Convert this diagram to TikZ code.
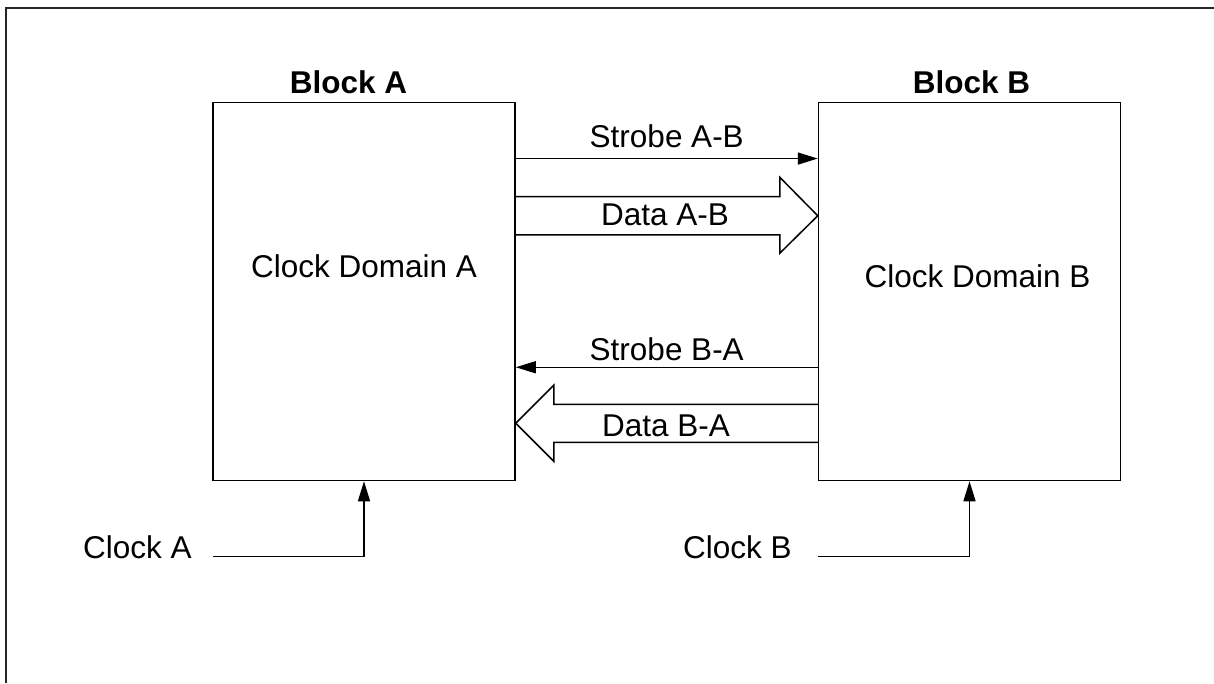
\documentclass[tikz,border=0pt]{standalone}
\usepackage{fontspec}
\setmainfont{Liberation Sans}
\usepackage{tikz}
\usetikzlibrary{arrows.meta,calc}
\tikzstyle{block} = [rectangle, minimum width=302pt, minimum height=378pt, inner sep=0pt, draw=black, line width=1.5pt]
\tikzstyle{title} = [font=\fontsize{31.5}{36}\selectfont\bfseries, anchor=base, inner sep=0pt]
\tikzstyle{txt} = [font=\fontsize{31.5}{36}\selectfont, anchor=base, inner sep=0pt]
\tikzstyle{arrow} = [line width=1.5pt,-{Triangle[length=20pt,width=12pt]}]
\tikzstyle{bus} = [line width=1.5pt, line join=miter]
\tikzstyle{frame} = [line width=2pt, draw=black!85]

\begin{document}
\begin{tikzpicture}[x=1pt, y=-1pt]
\useasboundingbox (0,0) rectangle (1214,683);
\draw [frame] (1214,8) -- (6,8) -- (6,683);

\node (blkA) [block] at (364,291.5) {};
\node (blkB) [block] at (969.5,291.5) {};
\node (ttlA) [title] at (348.5,93) {Block A};
\node (ttlB) [title] at (971.5,93) {Block B};
\node (domA) [txt] at (364,277) {Clock Domain A};
\node (domB) [txt] at (977.5,287) {Clock Domain B};

% A to B
\draw [arrow] ([yshift=-56.8pt]blkA.north east) -- node (strAB) [txt, above=10pt] {Strobe A-B} ([yshift=-56.8pt]blkB.north west);
\draw [bus] ([yshift=-94.8pt]blkA.north east) -- ([yshift=-94.8pt,xshift=-38pt]blkB.north west)
  -- ([yshift=-75.5pt,xshift=-38pt]blkB.north west) -- ([yshift=-114pt]blkB.north west)
  -- ([yshift=-151.5pt,xshift=-38pt]blkB.north west) -- ([yshift=-133.2pt,xshift=-38pt]blkB.north west)
  -- ([yshift=-133.2pt]blkA.north east);
\node (datAB) [txt] at (665,225) {Data A-B};

% B to A
\draw [arrow] ([yshift=-265.5pt]blkB.north west) -- node (strBA) [txt, above=6pt] {Strobe B-A} ([yshift=-265.5pt]blkA.north east);
\draw [bus] ([yshift=-302.5pt]blkB.north west) -- ([yshift=-302.5pt,xshift=38pt]blkA.north east)
  -- ([yshift=-283.5pt,xshift=38pt]blkA.north east) -- ([yshift=-321.5pt]blkA.north east)
  -- ([yshift=-359.5pt,xshift=38pt]blkA.north east) -- ([yshift=-340.5pt,xshift=38pt]blkA.north east)
  -- ([yshift=-340.5pt]blkB.north west);
\node (datBA) [txt] at (666,436.5) {Data B-A};

% clocks
\node (clkAlbl) [txt, anchor=base west] at (83,558) {Clock A};
\node (clkBlbl) [txt, anchor=base west] at (683,558) {Clock B};
\coordinate (clkA) at (213,556.7);
\coordinate (clkB) at (818,556.7);
\draw [arrow] (clkA) -| (blkA.south);
\draw [arrow] (clkB) -| (blkB.south);

\end{tikzpicture}
\end{document}
